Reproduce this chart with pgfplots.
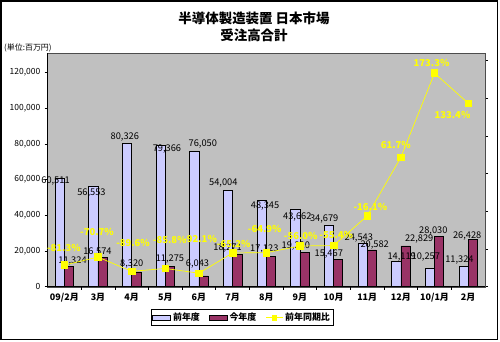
\documentclass[border=0pt]{standalone}
\usepackage{fontspec}
\setmainfont{Noto Sans CJK JP}
\usepackage{pgfplots}
\usepackage{pgfplotstable}
\pgfplotsset{compat=1.18}
\pgfkeys{/pgf/number format/assume math mode=true}
\definecolor{bg}{HTML}{C0C0C0}
\definecolor{prior}{HTML}{CCCCFF}
\definecolor{curr}{HTML}{993366}
\definecolor{yel}{HTML}{FFFF00}
\pgfplotsset{barleg/.style={legend image code/.code={\draw[##1] (0bp,-2.5bp) rectangle (18bp,2.5bp);}}}

\pgfplotstableread{
x y dx dy
0 60511 -4.2 -2.2
1 56553 -1.9 -7.5
2 80326 -2.2 6.1
3 79366 6.3 -3.5
4 76050 8.5 6.8
5 54004 -4.7 7.7
6 48345 3.4 -5.2
7 43662 2.0 -8.5
8 34679 -4.8 5.9
9 24543 -3.8 5.2
10 14119 5.4 4.8
11 10257 -4.1 11.7
12 11324 -4.1 6.5
}\prior

\pgfplotstableread{
x y dx dy
0 11324 3.6 5.8
1 16574 -5.1 5.4
2 8320 -4.5 7.9
3 11275 0.1 7.9
4 6043 -6.0 11.9
5 18271 -9.7 6.4
6 17123 -6.6 7.2
7 19220 -8.7 6.7
8 15467 -9.4 5.1
9 20582 2.9 5.0
10 22829 13.7 6.7
11 28030 -5.8 6.0
12 26428 -5.6 3.6
}\current

\pgfplotstableread{
x y dx dy
0 -81.3 -0.5 17.4
1 -70.7 -1.0 25.4
2 -89.6 1.4 28.0
3 -85.8 4.4 28.5
4 -92.1 1.1 34.2
5 -65.2 1.1 9.0
6 -64.9 -1.5 23.4
7 -56.0 0.8 10.0
8 -55.4 2.7 10.6
9 -16.1 3.1 9.3
10 61.7 -5.1 12.3
11 173.3 -3.0 9.9
12 133.4 -15.7 -11.8
}\ratio

\begin{document}
\begin{tikzpicture}[x=1bp,y=1bp]
\useasboundingbox (0,0) rectangle (500,341);
\draw[line width=1.5bp] (1,1.5) rectangle (497.5,340.2);
\node[align=center, font=\bfseries\fontsize{13.5}{17}\selectfont] at (254,314.5) {半導体製造装置 日本市場\\受注高合計};
\node[anchor=west, font=\fontsize{8}{9}\selectfont, inner sep=0pt] at (4,293) {(単位:百万円)};

\begin{axis}[
  at={(47.5bp,54.3bp)}, anchor=south west, scale only axis,
  width=437.5bp, height=233.7bp,
  xmin=-0.5, xmax=12.5, ymin=0, ymax=131000,
  ybar=0pt, bar width=9.2bp,
  axis background/.style={fill=bg, draw=gray!60!black},
  axis lines=left, axis line style={-, black, line width=0.8bp},
  tick align=outside, major tick length=3bp, tick style={black, line width=0.6bp},
  xtick={0.5,1.5,...,11.5}, xticklabels={},
  extra x ticks={0,...,12},
  extra x tick labels={09/2月,3月,4月,5月,6月,7月,8月,9月,10月,11月,12月,10/1月,2月},
  extra x tick style={major tick length=0pt, tick style={draw=none}},
  xticklabel style={font=\bfseries\fontsize{9}{10}\selectfont, inner sep=0pt, anchor=center, yshift=-11bp},
  ytick={0,20000,...,120000}, scaled y ticks=false,
  yticklabel style={font=\fontsize{8.5}{9}\selectfont, inner sep=0pt, anchor=east, xshift=-4bp, /pgf/number format/fixed},
  clip=false,
]
\addplot[fill=prior, draw=black, line width=0.6bp,
  visualization depends on={\thisrow{dx}\as\labdx},
  visualization depends on={\thisrow{dy}\as\labdy},
  nodes near coords={\pgfmathprintnumber[fixed]{\pgfplotspointmeta}},
  every node near coord/.append style={font=\fontsize{9.3}{10}\selectfont, text=black, anchor=center, inner sep=0pt, xshift=\labdx bp, yshift=\labdy bp}]
  table[x=x,y=y] {\prior};
\addplot[fill=curr, draw=black, line width=0.6bp,
  visualization depends on={\thisrow{dx}\as\labdx},
  visualization depends on={\thisrow{dy}\as\labdy},
  nodes near coords={\pgfmathprintnumber[fixed]{\pgfplotspointmeta}},
  every node near coord/.append style={font=\fontsize{9.3}{10}\selectfont, text=black, anchor=center, inner sep=0pt, xshift=\labdx bp, yshift=\labdy bp}]
  table[x=x,y=y] {\current};
\end{axis}

\begin{axis}[
  at={(47.5bp,54.3bp)}, anchor=south west, scale only axis,
  width=437.5bp, height=233.7bp,
  xmin=-0.5, xmax=12.5, ymin=-110, ymax=200,
  axis x line=none, axis y line*=right,
  axis line style={-, gray!60!black, line width=0.8bp},
  tick align=outside, major tick length=3bp, tick style={black, line width=0.6bp},
  ytick={-110,-60,...,190}, yticklabels={},
  clip=false,
  legend style={at={(0.445,-0.132)}, anchor=center, draw=black, line width=0.8bp, fill=white,
    font=\bfseries\fontsize{9}{10}\selectfont, legend columns=-1, inner sep=1.5bp,
    /tikz/every even column/.append style={column sep=7bp}},
  legend cell align=left,
]
\addlegendimage{barleg, fill=prior, draw=black, line width=0.6bp}
\addlegendentry{前年度}
\addlegendimage{barleg, fill=curr, draw=black, line width=0.6bp}
\addlegendentry{今年度}
\addplot[color=yel, line width=0.7bp, mark=square*, mark size=3.3bp,
  mark options={fill=yel, draw=yel},
  legend image post style={mark size=2.3bp},
  visualization depends on={\thisrow{dx}\as\labdx},
  visualization depends on={\thisrow{dy}\as\labdy},
  nodes near coords={\pgfmathprintnumber[fixed,fixed zerofill,precision=1]{\pgfplotspointmeta}\%},
  every node near coord/.append style={font=\bfseries\fontsize{9.5}{10}\selectfont, text=yel, anchor=center, inner sep=0pt, xshift=\labdx bp, yshift=\labdy bp}]
  table[x=x,y=y] {\ratio};
\addlegendentry{前年同期比}
\end{axis}
\end{tikzpicture}
\end{document}
